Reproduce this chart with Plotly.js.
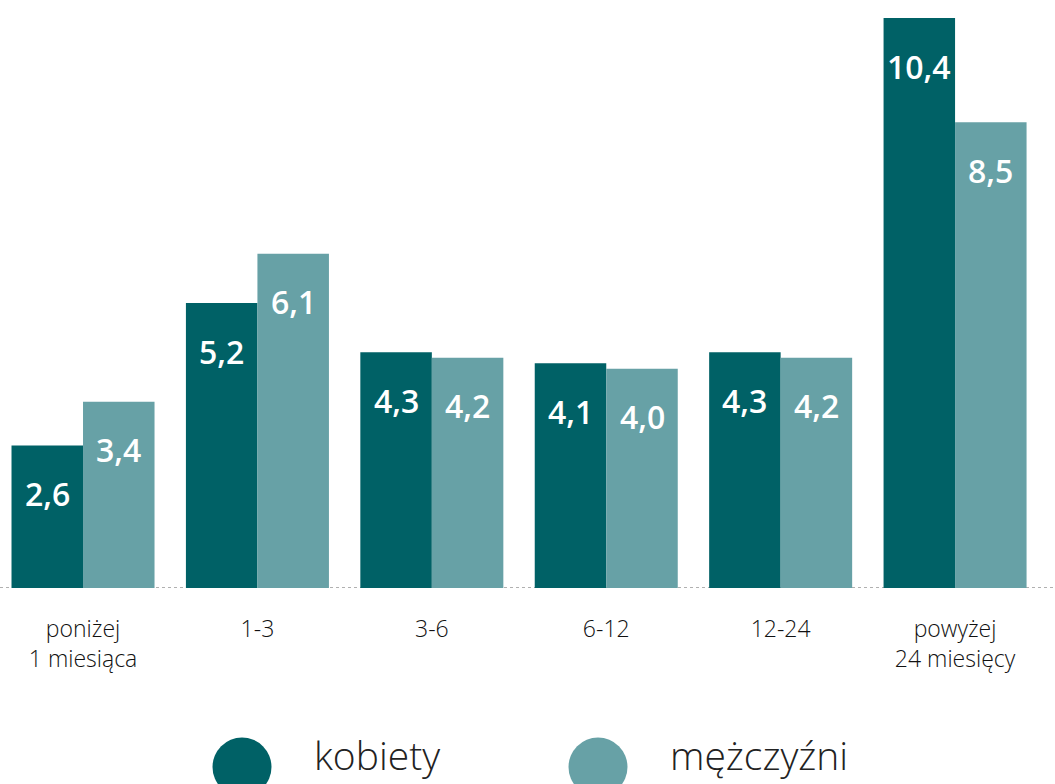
<!DOCTYPE html>
<html>
<head>
<meta charset="utf-8">
<script src="https://cdn.plot.ly/plotly-3.0.1.min.js"></script>
<style>
html,body{margin:0;padding:0;background:#fff;}
#chart{width:1055px;height:784px;}
</style>
</head>
<body>
<div id="chart"></div>
<script>
const categories = ["poniżej<br>1 miesiąca", "1-3", "3-6", "6-12", "12-24", "powyżej<br>24 miesięcy"];
const kobiety = [2.6, 5.2, 4.3, 4.1, 4.3, 10.4];
const mezczyzni = [3.4, 6.1, 4.2, 4.0, 4.2, 8.5];
const seriesNames = ["kobiety", "mężczyźni"];
const colors = ["#006166", "#67a1a6"];

const fmt = v => v.toFixed(1).replace('.', ',');

const traces = [
  {type:'bar', name: seriesNames[0], x: categories, y: kobiety, marker:{color:colors[0]}, hoverinfo:'none', textposition:'none'},
  {type:'bar', name: seriesNames[1], x: categories, y: mezczyzni, marker:{color:colors[1]}, hoverinfo:'none', textposition:'none'}
];

const BARPX = 71.5;
const annotations = [];
[kobiety, mezczyzni].forEach((vals, s) => {
  vals.forEach((v, i) => {
    annotations.push({
      x: categories[i], y: v, xref:'x', yref:'y',
      text: fmt(v), showarrow:false,
      xshift: (s === 0 ? -1 : 1) * BARPX/2,
      yanchor:'middle', yshift:-48,
      font:{family:'"Open Sans", sans-serif', size:32, color:'#ffffff', weight:600}
    });
  });
});
// legend labels
const legendX = [242/1055, 598/1055];
const legendY = (588-767)/588;
seriesNames.forEach((n, s) => {
  annotations.push({
    xref:'paper', yref:'paper', x: legendX[s], y: legendY,
    xshift: 70, yshift: 13, xanchor:'left', yanchor:'middle', showarrow:false,
    text: n, font:{family:'"Open Sans", sans-serif', size:39, color:'#222', weight:300}
  });
});

const shapes = [
  {type:'line', xref:'paper', yref:'y', x0:0, x1:1, y0:0, y1:0, layer:'below',
   line:{color:'#b0b0b0', width:2, dash:'dot'}}
];
seriesNames.forEach((n, s) => {
  shapes.push({type:'circle', xref:'paper', yref:'paper', xsizemode:'pixel', ysizemode:'pixel',
    xanchor: legendX[s], yanchor: legendY, x0:-29.5, x1:29.5, y0:-29.5, y1:29.5,
    fillcolor: colors[s], line:{width:0}});
});

const layout = {
  width:1055, height:784,
  margin:{l:0, r:0, t:0, b:196},
  paper_bgcolor:'#fff', plot_bgcolor:'#fff',
  barmode:'group', bargap:0.18, bargroupgap:0,
  showlegend:false,
  xaxis:{type:'category', range:[-0.476, 5.573], showgrid:false, zeroline:false, showline:false,
    ticks:'', ticklabelstandoff:25,
    tickfont:{family:'"Open Sans", sans-serif', size:23, color:'#111', weight:300}, fixedrange:true},
  yaxis:{range:[0, 588/54.8], showgrid:false, zeroline:false, showline:false, showticklabels:false, fixedrange:true},
  annotations, shapes
};
Plotly.newPlot('chart', traces, layout, {displayModeBar:false, staticPlot:true});
</script>
</body>
</html>
